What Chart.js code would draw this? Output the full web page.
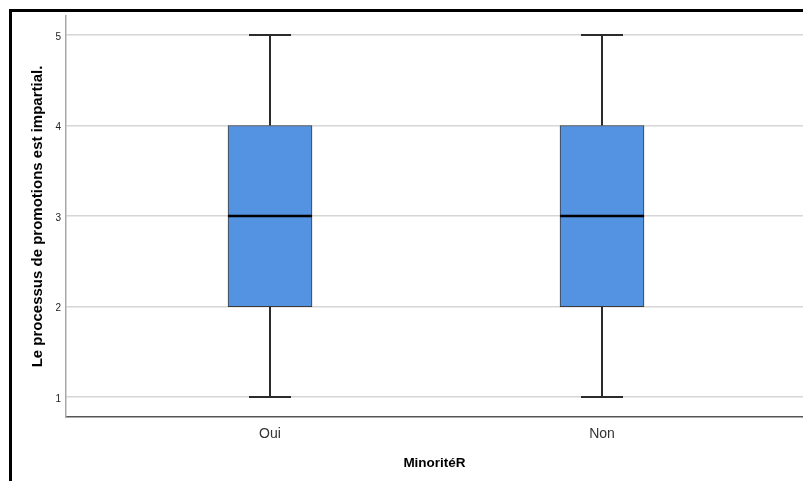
<!DOCTYPE html>
<html>
<head>
<meta charset="utf-8">
<script src="https://cdn.jsdelivr.net/npm/chart.js@4.4.1/dist/chart.umd.min.js"></script>
<style>
  html, body { margin: 0; padding: 0; background: #fff; overflow: hidden; }
  #wrap { position: relative; width: 803px; height: 481px; }
  #frame {
    position: absolute; left: 9px; top: 9px; width: 900px; height: 600px;
    border: 3px solid #000; pointer-events: none; box-sizing: border-box;
  }
</style>
</head>
<body>
<div id="wrap">
  <canvas id="boite" width="803" height="481"></canvas>
  <div id="frame"></div>
</div>
<script>
// données
const categories = ["Oui", "Non"];
const positionsX = [1, 2];
const minimums = [1, 1];
const quartile1 = [2, 2];
const medianes = [3, 3];
const quartile3 = [4, 4];
const maximums = [5, 5];
const ticksY = [1, 2, 3, 4, 5];

const LARGEUR_BOITE = 84;
const LARGEUR_MOUSTACHE = 42;

// moustaches + médiane, dessinées avec les échelles du graphique
const plugin_moustaches = {
  id: "moustaches",
  afterDatasetsDraw: (chart) => {
    const { ctx } = chart;
    const x = chart.scales.x;
    const y = chart.scales.y;
    ctx.save();
    categories.forEach((cat, i) => {
      const cx = Math.round(x.getPixelForValue(positionsX[i]));
      const yMin = y.getPixelForValue(minimums[i]);
      const yQ1 = y.getPixelForValue(quartile1[i]);
      const yMed = y.getPixelForValue(medianes[i]);
      const yQ3 = y.getPixelForValue(quartile3[i]);
      const yMax = y.getPixelForValue(maximums[i]);

      ctx.strokeStyle = "#2b2b2b";
      ctx.lineWidth = 2;
      ctx.beginPath();
      // tiges
      ctx.moveTo(cx, yQ3);
      ctx.lineTo(cx, yMax);
      ctx.moveTo(cx, yQ1);
      ctx.lineTo(cx, yMin);
      // chapeaux
      ctx.moveTo(cx - LARGEUR_MOUSTACHE / 2, yMax);
      ctx.lineTo(cx + LARGEUR_MOUSTACHE / 2, yMax);
      ctx.moveTo(cx - LARGEUR_MOUSTACHE / 2, yMin);
      ctx.lineTo(cx + LARGEUR_MOUSTACHE / 2, yMin);
      ctx.stroke();

      // médiane
      ctx.strokeStyle = "#000";
      ctx.lineWidth = 2.5;
      ctx.beginPath();
      ctx.moveTo(cx - LARGEUR_BOITE / 2, yMed);
      ctx.lineTo(cx + LARGEUR_BOITE / 2, yMed);
      ctx.stroke();
    });
    ctx.restore();
  },
};

const ctx = document.getElementById("boite").getContext("2d");
const chart_boite = new Chart(ctx, {
  type: "bar",
  data: {
    datasets: [
      {
        label: "Boîte",
        data: categories.map((c, i) => ({ x: positionsX[i], y: [quartile1[i], quartile3[i]] })),
        backgroundColor: "#5492e2",
        borderColor: "#3a3a3a",
        borderWidth: 1,
        borderSkipped: false,
        barThickness: LARGEUR_BOITE,
      },
    ],
  },
  options: {
    responsive: false,
    animation: false,
    layout: { padding: { top: 16, left: 0, right: 0, bottom: 0 } },
    plugins: {
      legend: { display: false },
      tooltip: { enabled: false },
      title: { display: false },
    },
    scales: {
      x: {
        type: "linear",
        offset: false,
        min: 0.3855,
        max: 2.6054,
        grid: { display: false, drawTicks: false, offset: false },
        border: { color: "#555555", width: 1.5 },
        afterBuildTicks: (scale) => {
          scale.ticks = positionsX.map((v) => ({ value: v }));
        },
        afterFit: (scale) => {
          scale.height = 64;
        },
        ticks: {
          padding: 9,
          color: "#333",
          font: { family: "Liberation Sans, Arial, sans-serif", size: 14 },
          callback: (v) => categories[positionsX.indexOf(v)],
        },
        title: {
          display: true,
          text: "MinoritéR",
          color: "#000",
          font: { family: "Liberation Sans, Arial, sans-serif", size: 13.5, weight: "bold" },
          padding: { top: 0, bottom: 9.6 },
        },
      },
      y: {
        min: 0.78,
        max: 5.21,
        grid: { color: "#d6d6d6", lineWidth: 1.5, drawTicks: false },
        border: { color: "#a8a8a8", width: 1.5 },
        afterBuildTicks: (scale) => {
          scale.ticks = ticksY.map((v) => ({ value: v }));
        },
        afterFit: (scale) => {
          scale.width = 66;
        },
        ticks: {
          padding: 5,
          labelOffset: 2,
          color: "#222",
          font: { family: "Liberation Sans, Arial, sans-serif", size: 10 },
        },
        title: {
          display: true,
          text: "Le processus de promotions est impartial.",
          color: "#000",
          font: { family: "Liberation Sans, Arial, sans-serif", size: 15, weight: "bold" },
          padding: { top: 29, bottom: 0 },
        },
      },
    },
  },
  plugins: [plugin_moustaches],
});
</script>
</body>
</html>
